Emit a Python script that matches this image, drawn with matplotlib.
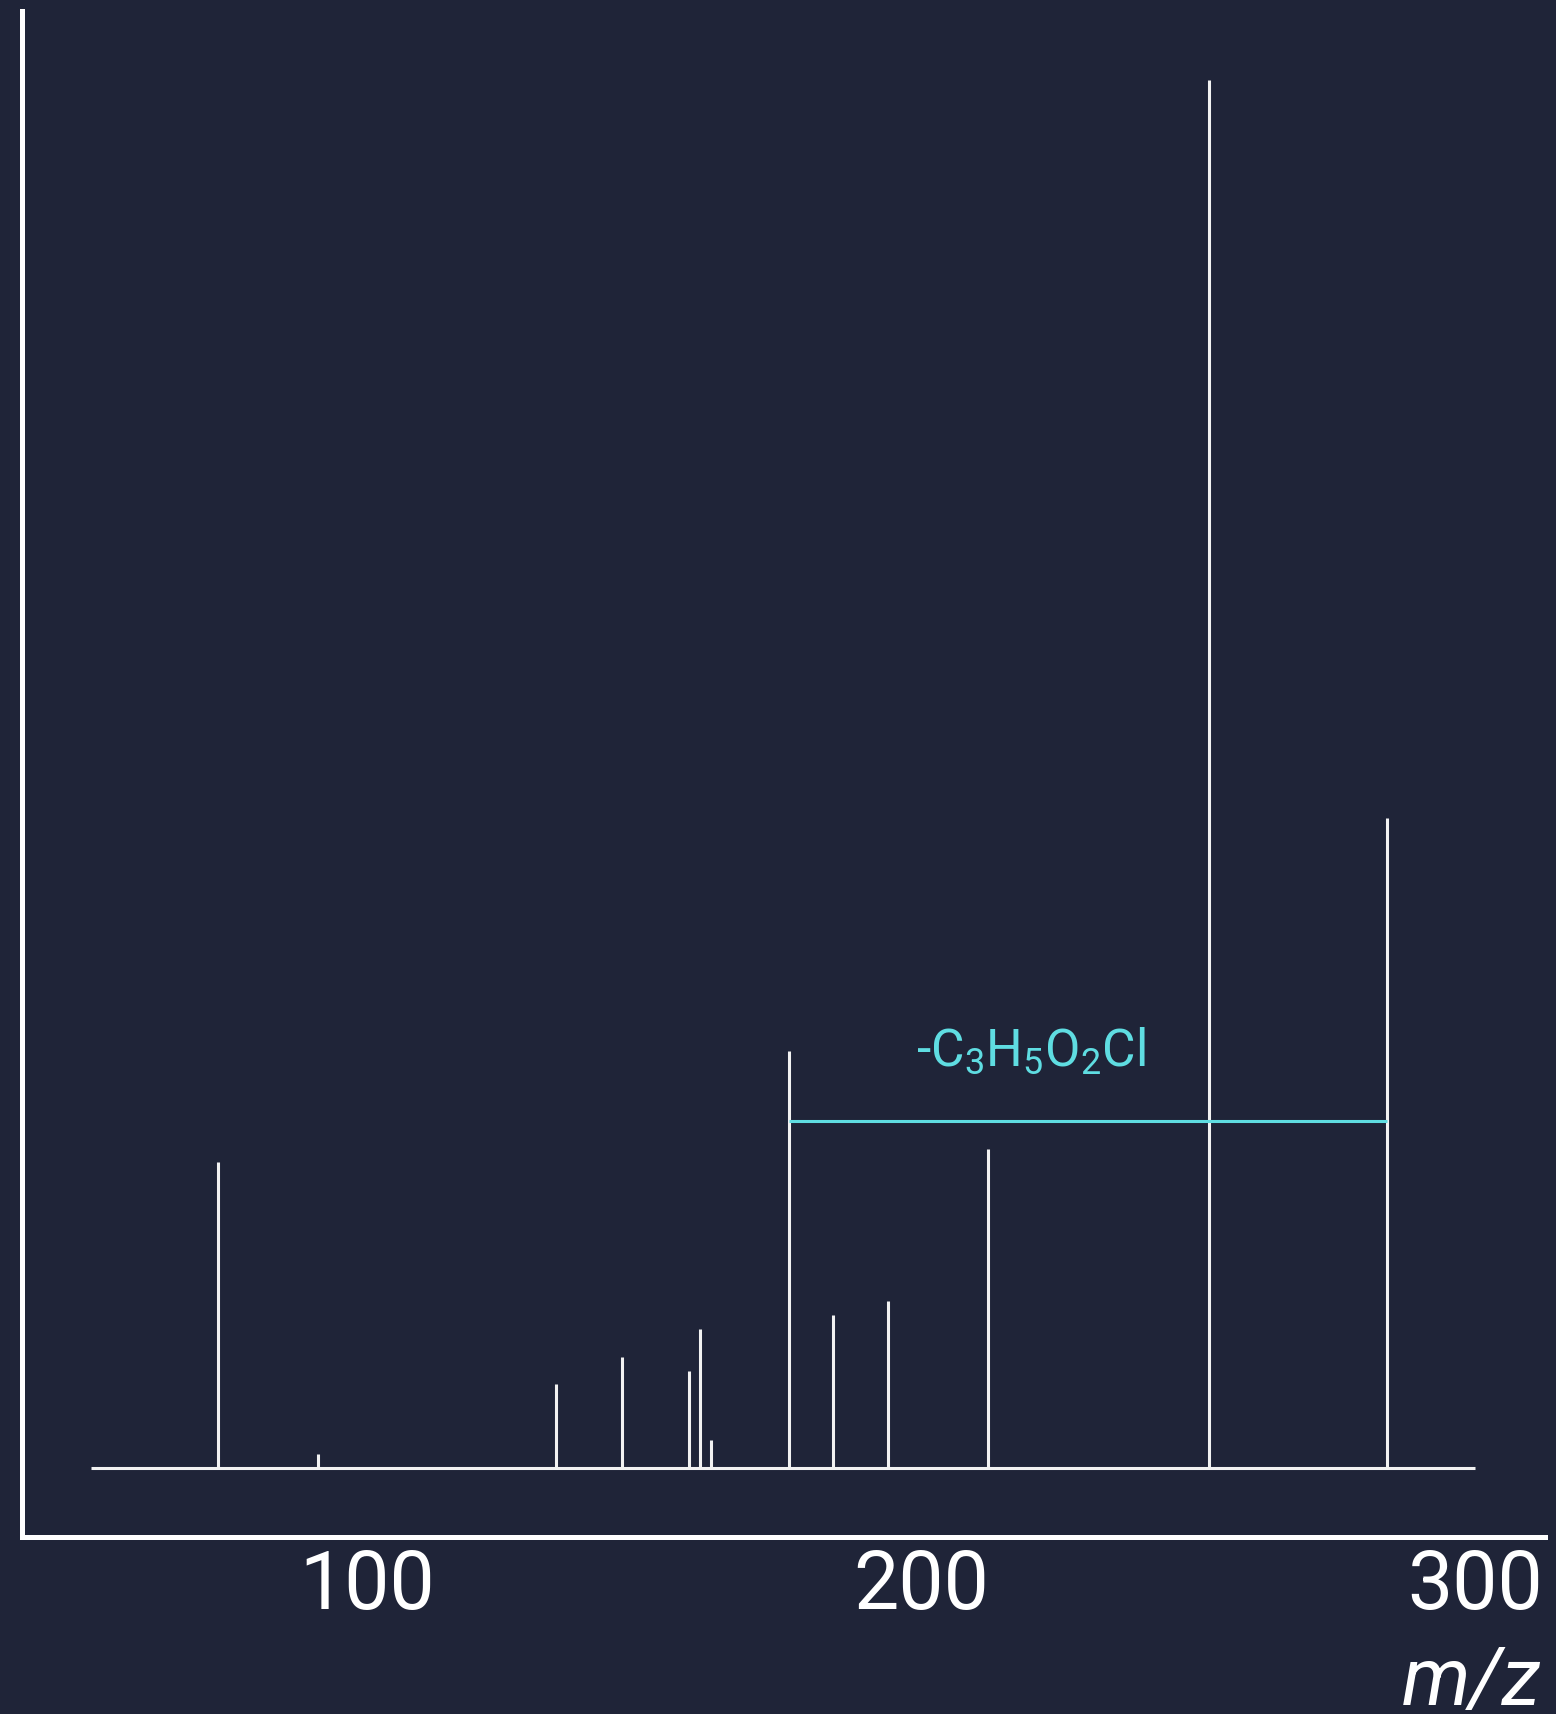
import matplotlib
matplotlib.use('Agg')
import matplotlib.pyplot as plt

# peak list (relative intensity, base peak = 100)
mz = [73, 91, 134, 146, 158, 160, 162, 176, 184, 194, 212, 252, 284]
intensity = [22, 1, 6, 8, 7, 10, 2, 30, 11, 12, 23, 100, 46.8]

# neutral loss bracket
loss_from = 176
loss_to = 284
loss_level = 25
loss_label = '-C$_3$H$_5$O$_2$Cl'
xticks = [100, 200, 300]

bg = '#1f2438'
fg = '#f2f2f2'
cyan = '#5fdde2'

plt.rcParams['font.family'] = ['Roboto', 'DejaVu Sans']
plt.rcParams['mathtext.fontset'] = 'custom'
plt.rcParams['mathtext.rm'] = 'Roboto'
plt.rcParams['mathtext.it'] = 'Roboto:italic'

fig = plt.figure(figsize=(15.56, 17.14), dpi=100, facecolor=bg)
ax = fig.add_axes([21.5/1556, 177/1714, 1523/1556, 1526/1714])
ax.set_facecolor(bg)

ax.hlines(0, 50, 300, color=fg, lw=2.2)
ax.vlines(mz, 0, intensity, color=fg, lw=2.2)

ax.hlines(loss_level, loss_from, loss_to, color=cyan, lw=2.2)
ax.text(219.7, 30.0, loss_label, color=cyan, fontsize=37, ha='center', va='center')

for s in ['top', 'right']:
    ax.spines[s].set_visible(False)
for s in ['left', 'bottom']:
    ax.spines[s].set_color('white')
    ax.spines[s].set_linewidth(3.6)

ax.set_xticks(xticks)
ax.set_xticklabels([str(t) for t in xticks])
ax.set_yticks([])
ax.tick_params(axis='x', length=0, pad=8, labelsize=58, colors='white')

fig.text(1541/1556, 1 - 1705/1714, 'm/z', color='white', fontsize=58,
         style='italic', ha='right', va='baseline')

fig.savefig('out.png', dpi=100, facecolor=bg)
